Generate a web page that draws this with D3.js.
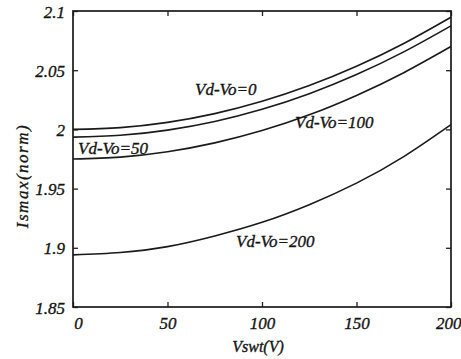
<!DOCTYPE html>
<html>
<head>
<meta charset="utf-8">
<script src="https://cdn.jsdelivr.net/npm/d3@7"></script>
<style>
  body { margin: 0; background: #fff; }
  svg text { font-family: "Liberation Serif", "Times New Roman", Times, "DejaVu Serif", serif !important; font-style: italic; fill: #151515; stroke: #151515; stroke-width: 0.35px; }
</style>
</head>
<body>
<script>
var svgWidth = 461
var svgHeight = 359

var Margin = { top: 11, right: 10, bottom: 52, left: 73 };

var chartWidth = svgWidth - Margin.left - Margin.right;
var chartHeight = svgHeight - Margin.top - Margin.bottom;

// data
var vswt = [0, 25, 50, 75, 100, 125, 150, 175, 200];
var is0 = [2.000, 2.0015, 2.0059, 2.0133, 2.0237, 2.0370, 2.0533, 2.0726, 2.0948];
var is50 = [1.9935, 1.9950, 1.9994, 2.0067, 2.0170, 2.0302, 2.0464, 2.0655, 2.0875];
var is100 = [1.975, 1.9766, 1.9811, 1.9886, 1.9990, 2.0123, 2.0287, 2.0479, 2.0700];
var is200 = [1.894, 1.896, 1.901, 1.910, 1.9215, 1.9364, 1.9546, 1.977, 2.004];
var seriesNames = ["Vd-Vo=0", "Vd-Vo=50", "Vd-Vo=100", "Vd-Vo=200"];
var xTicks = [0, 50, 100, 150, 200];
var yTicks = [1.85, 1.9, 1.95, 2, 2.05, 2.1];

var serif = '"Liberation Serif", "Times New Roman", Times, serif';

var svg = d3.select("body")
  .append("svg")
  .attr("width", svgWidth)
  .attr("height", svgHeight);

var chartGroup = svg.append("g")
  .attr("transform", `translate(${Margin.left}, ${Margin.top})`);

var xScale = d3.scaleLinear().domain([0, 200]).range([0, chartWidth]);
var yScale = d3.scaleLinear().domain([1.85, 2.1]).range([chartHeight, 0]);

var fmt = d => String(d);

// left axis
var gl = chartGroup.append("g")
  .call(d3.axisLeft(yScale).tickValues(yTicks).tickSize(-5).tickPadding(8).tickFormat(fmt));
gl.selectAll("text").attr("dy", 0).attr("y", 6).style("font-size", "17px");

// bottom axis
var gb = chartGroup.append("g")
  .attr("transform", `translate(0, ${chartHeight})`)
  .call(d3.axisBottom(xScale).tickValues(xTicks).tickSize(-5).tickFormat(fmt));
gb.selectAll("text").attr("dy", 0).attr("y", 22).style("font-size", "17px");
gb.selectAll(".tick text").filter(d => d == 0).attr("x", 5);
gb.selectAll(".tick text").filter(d => d == 200).attr("text-anchor", "end").attr("x", 10);

// top and right ticks only
chartGroup.append("g")
  .call(d3.axisTop(xScale).tickValues(xTicks).tickSize(-5).tickFormat(""));
chartGroup.append("g")
  .attr("transform", `translate(${chartWidth}, 0)`)
  .call(d3.axisRight(yScale).tickValues(yTicks).tickSize(-5).tickFormat(""));

chartGroup.selectAll(".domain").remove();
chartGroup.selectAll(".tick line").attr("stroke", "#222").attr("stroke-width", 1.3);
svg.selectAll("g").attr("font-family", serif);

chartGroup.append("rect")
  .attr("width", chartWidth)
  .attr("height", chartHeight)
  .attr("fill", "none")
  .attr("stroke", "#1a1a1a")
  .attr("stroke-width", 1.7);

var line = d3.line()
  .x((d, i) => xScale(vswt[i]))
  .y(d => yScale(d))
  .curve(d3.curveNatural);

[is0, is50, is100, is200].forEach(function(s) {
  chartGroup.append("path")
    .attr("d", line(s))
    .attr("fill", "none")
    .attr("stroke", "#1a1a1a")
    .attr("stroke-width", 1.6);
});

// curve labels
var labelPos = [[122, 84], [5, 143], [222, 117], [163, 236]];
seriesNames.forEach(function(n, i) {
  chartGroup.append("text")
    .attr("x", labelPos[i][0])
    .attr("y", labelPos[i][1])
    .attr("font-family", serif)
    .style("font-size", "17px")
    .text(n);
});

// axis titles
svg.append("text")
  .attr("x", 258)
  .attr("y", 352)
  .attr("text-anchor", "middle")
  .attr("font-family", serif)
  .style("font-size", "16px")
  .text("Vswt(V)");

svg.append("text")
  .attr("transform", "translate(28, 176) rotate(-90)")
  .attr("text-anchor", "middle")
  .attr("font-family", serif)
  .style("font-size", "17px")
  .style("letter-spacing", "1.5px")
  .text("Ismax(norm)");
</script>
</body>
</html>
